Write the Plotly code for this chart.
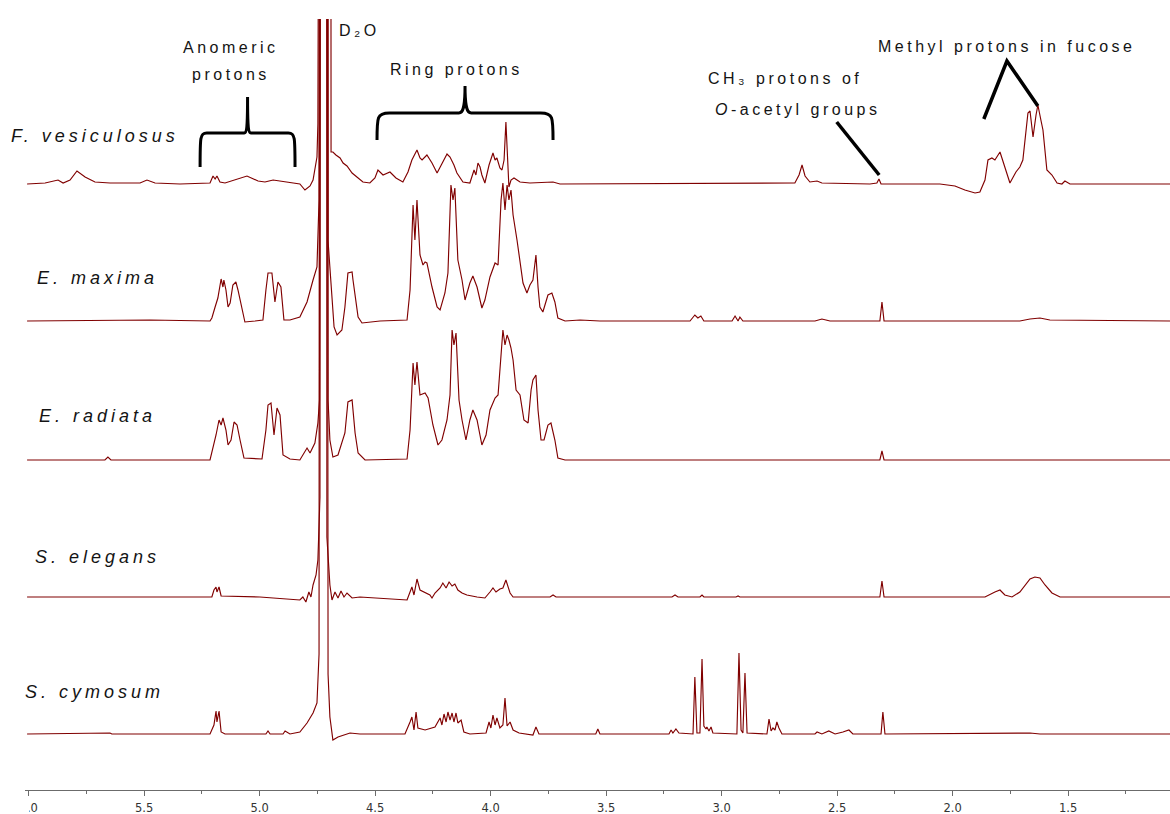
import plotly.graph_objects as go

# 1H NMR spectra (D2O) of fucoidan-type polysaccharides, stacked.
# Each spectrum: (chemical shift in ppm, relative intensity in a.u.)

SPECIES = ["F. vesiculosus", "E. maxima", "E. radiata", "S. elegans", "S. cymosum"]

F_VESICULOSUS = [
    (6.007, 0), (5.929, 1), (5.873, 4), (5.851, 1), (5.821, 4), (5.791, 13), (5.756, 7),
    (5.713, 2), (5.648, 1), (5.518, 1), (5.488, 4), (5.453, 1), (5.345, 0), (5.258, 1),
    (5.215, 1), (5.202, 8), (5.193, 5), (5.185, 8), (5.172, 2), (5.150, 1), (5.107, 4),
    (5.055, 8), (5.007, 3), (4.977, 2), (4.942, 4), (4.890, 2), (4.826, 0), (4.804, -6),
    (4.782, -2), (4.769, 4), (4.752, 27), (4.748, 60), (4.741, 4000), (4.700, 4000),
    (4.691, 32), (4.683, 32), (4.670, 29), (4.652, 26), (4.639, 21), (4.622, 18),
    (4.600, 11), (4.574, 6), (4.553, 2), (4.523, 1), (4.501, 6), (4.488, 14), (4.466, 9),
    (4.436, 12), (4.410, 6), (4.380, 2), (4.358, 12), (4.341, 24), (4.319, 34), (4.306, 26),
    (4.297, 24), (4.276, 29), (4.254, 21), (4.232, 11), (4.211, 21), (4.189, 30),
    (4.176, 27), (4.159, 19), (4.146, 11), (4.120, 2), (4.090, 1), (4.072, 14), (4.064, 9),
    (4.055, 21), (4.046, 17), (4.038, 9), (4.025, 1), (4.007, 19), (3.990, 31), (3.981, 24),
    (3.973, 26), (3.960, 16), (3.951, 14), (3.942, 24), (3.934, 62), (3.925, 14),
    (3.921, -3), (3.912, 4), (3.899, 6), (3.873, 2), (3.830, 1), (3.730, 2), (3.700, 0),
    (2.683, 1), (2.665, 9), (2.652, 19), (2.639, 8), (2.618, 2), (2.587, 3), (2.566, 1),
    (2.358, 0), (2.328, 1), (2.319, 5), (2.310, 0), (2.055, 0), (1.990, -2), (1.947, -6),
    (1.903, -9), (1.882, -8), (1.860, 4), (1.847, 24), (1.830, 26), (1.817, 24),
    (1.795, 32), (1.778, 19), (1.752, 1), (1.726, 12), (1.709, 17), (1.696, 24),
    (1.679, 64), (1.674, 71), (1.665, 73), (1.652, 47), (1.639, 69), (1.631, 79),
    (1.618, 64), (1.609, 54), (1.592, 14), (1.570, 9), (1.548, 1), (1.527, 0), (1.514, 3),
    (1.492, 0), (1.059, 0),
]

E_MAXIMA = [
    (6.007, 0), (5.475, 1), (5.215, 0), (5.207, 3), (5.193, 14), (5.181, 23), (5.167, 42),
    (5.159, 34), (5.155, 41), (5.146, 31), (5.137, 14), (5.128, 18), (5.116, 36),
    (5.103, 39), (5.094, 31), (5.081, 18), (5.064, -1), (5.020, 0), (4.986, 1), (4.973, 31),
    (4.964, 48), (4.947, 48), (4.934, 19), (4.921, 39), (4.908, 34), (4.895, 1), (4.869, 1),
    (4.826, 4), (4.795, 19), (4.769, 41), (4.752, 54), (4.743, 121), (4.735, 4000),
    (4.713, 4000), (4.704, 80), (4.687, 21), (4.678, -6), (4.665, -14), (4.644, -9),
    (4.631, 14), (4.618, 48), (4.600, 49), (4.596, 41), (4.574, 4), (4.557, -2), (4.479, 0),
    (4.362, 1), (4.349, 31), (4.336, 116), (4.328, 81), (4.319, 121), (4.306, 66),
    (4.293, 56), (4.284, 59), (4.276, 58), (4.254, 34), (4.232, 14), (4.219, 11),
    (4.198, 28), (4.185, 48), (4.172, 136), (4.163, 121), (4.155, 133), (4.142, 61),
    (4.124, 41), (4.111, 21), (4.090, 38), (4.077, 45), (4.059, 34), (4.038, 13),
    (4.025, 21), (4.003, 44), (3.981, 58), (3.968, 56), (3.955, 121), (3.947, 138),
    (3.938, 111), (3.929, 136), (3.921, 121), (3.912, 131), (3.903, 106), (3.886, 81),
    (3.873, 61), (3.860, 38), (3.843, 28), (3.830, 36), (3.817, 41), (3.804, 66),
    (3.795, 34), (3.787, 14), (3.774, 9), (3.752, 26), (3.735, 28), (3.722, 19),
    (3.709, 3), (3.678, 0), (3.613, 1), (3.527, 0), (3.137, 0), (3.116, 6), (3.103, 3),
    (3.090, 5), (3.077, 0), (2.955, 0), (2.942, 5), (2.929, 0), (2.921, 4), (2.908, 0),
    (2.596, 0), (2.566, 2), (2.531, 0), (2.315, 0), (2.306, 19), (2.297, 0), (1.709, 0),
    (1.665, 2), (1.622, 3), (1.579, 1), (1.059, 0),
]

E_RADIATA = [
    (6.007, 0), (5.670, 0), (5.657, 3), (5.644, 0), (5.215, 0), (5.202, 12), (5.189, 25),
    (5.176, 40), (5.167, 35), (5.159, 42), (5.146, 30), (5.137, 15), (5.124, 20),
    (5.111, 38), (5.098, 35), (5.085, 20), (5.068, 2), (4.990, 1), (4.973, 30), (4.964, 55),
    (4.951, 57), (4.938, 25), (4.925, 52), (4.912, 45), (4.899, 5), (4.869, 1), (4.826, 0),
    (4.795, 12), (4.782, 7), (4.761, 17), (4.748, 37), (4.741, 60), (4.732, 4000),
    (4.713, 4000), (4.704, 60), (4.696, 20), (4.683, 3), (4.661, 5), (4.631, 27),
    (4.618, 58), (4.600, 60), (4.587, 27), (4.574, 7), (4.544, 0), (4.362, 1), (4.349, 30),
    (4.336, 97), (4.328, 75), (4.319, 98), (4.306, 65), (4.284, 67), (4.271, 62),
    (4.250, 35), (4.228, 15), (4.211, 20), (4.189, 40), (4.176, 65), (4.167, 130),
    (4.159, 115), (4.150, 127), (4.137, 60), (4.124, 40), (4.107, 20), (4.090, 40),
    (4.077, 50), (4.059, 40), (4.038, 15), (4.020, 25), (4.003, 50), (3.981, 62),
    (3.968, 65), (3.955, 110), (3.947, 130), (3.938, 115), (3.929, 125), (3.921, 120),
    (3.912, 112), (3.903, 100), (3.890, 70), (3.873, 65), (3.856, 40), (3.838, 37),
    (3.825, 70), (3.817, 80), (3.804, 85), (3.795, 50), (3.782, 20), (3.769, 20),
    (3.752, 35), (3.739, 37), (3.722, 20), (3.709, 2), (3.678, 0), (2.315, 0), (2.306, 9),
    (2.297, 0), (1.059, 0),
]

S_ELEGANS = [
    (6.007, 0), (5.207, 0), (5.198, 7), (5.189, 10), (5.185, 5), (5.176, 10), (5.167, 1),
    (4.999, 0), (4.826, -3), (4.813, 0), (4.800, -5), (4.787, 5), (4.778, 0), (4.769, 12),
    (4.756, 22), (4.748, 37), (4.739, 100), (4.730, 4000), (4.717, 4000), (4.709, 60),
    (4.696, 12), (4.687, -3), (4.674, 5), (4.661, -1), (4.648, 6), (4.635, 0), (4.622, 4),
    (4.600, -1), (4.566, 0), (4.362, -3), (4.341, 10), (4.332, 2), (4.319, 18), (4.306, 7),
    (4.263, 2), (4.254, -1), (4.241, 4), (4.219, 9), (4.207, 14), (4.193, 9), (4.180, 15),
    (4.167, 11), (4.155, 13), (4.142, 7), (4.124, 4), (4.103, 2), (4.059, 0), (4.025, -1),
    (4.003, 5), (3.990, 9), (3.977, 5), (3.960, 8), (3.947, 9), (3.934, 17), (3.916, 4),
    (3.903, 0), (3.743, 0), (3.730, 2), (3.717, 0), (3.215, 0), (3.202, 2), (3.189, 0),
    (3.094, 0), (3.085, 2), (3.077, 0), (2.938, 0), (2.929, 1), (2.921, 0), (2.315, 0),
    (2.306, 16), (2.297, 0), (1.860, 0), (1.817, 5), (1.795, 7), (1.774, 2), (1.743, 0),
    (1.709, 5), (1.687, 12), (1.665, 18), (1.644, 20), (1.622, 19), (1.600, 12),
    (1.570, 4), (1.535, 0), (1.059, 0),
]

S_CYMOSUM = [
    (6.007, 0), (5.648, 1), (5.640, 0), (5.215, 0), (5.198, 9), (5.189, 23), (5.185, 12),
    (5.176, 23), (5.167, 2), (5.150, 0), (4.973, 0), (4.964, 3), (4.955, 0), (4.899, 0),
    (4.890, 3), (4.869, 0), (4.826, 2), (4.795, 11), (4.769, 21), (4.752, 31), (4.743, 80),
    (4.735, 4000), (4.717, 4000), (4.704, 60), (4.696, 17), (4.683, -6), (4.661, -3),
    (4.631, -1), (4.609, 1), (4.566, 0), (4.371, 0), (4.349, 12), (4.341, 17), (4.332, 4),
    (4.323, 22), (4.315, 6), (4.284, 4), (4.241, 7), (4.219, 16), (4.211, 9), (4.202, 20),
    (4.193, 12), (4.185, 22), (4.176, 14), (4.167, 21), (4.159, 12), (4.150, 21),
    (4.142, 11), (4.128, 14), (4.116, 2), (4.090, 0), (4.020, 1), (4.007, 12), (3.999, 6),
    (3.990, 19), (3.981, 9), (3.973, 16), (3.960, 6), (3.947, 9), (3.938, 36), (3.929, 8),
    (3.916, 12), (3.903, 4), (3.877, 1), (3.817, -1), (3.804, 7), (3.791, 0), (3.545, 0),
    (3.536, 5), (3.527, 0), (3.228, 0), (3.219, 4), (3.211, 1), (3.198, 5), (3.185, 1),
    (3.124, 0), (3.116, 57), (3.107, 1), (3.094, 1), (3.085, 75), (3.077, 8), (3.068, 5),
    (3.064, 7), (3.055, 3), (3.046, 7), (3.038, 1), (2.934, 0), (2.925, 81), (2.916, 4),
    (2.908, 1), (2.899, 61), (2.890, 1), (2.804, 0), (2.795, 15), (2.786, 3), (2.778, 6),
    (2.769, 4), (2.761, 12), (2.752, 6), (2.739, 0), (2.596, 0), (2.587, 2), (2.566, 0),
    (2.536, 3), (2.509, 0), (2.475, 2), (2.449, 4), (2.432, 0), (2.310, 0), (2.302, 22),
    (2.293, 0), (1.665, 1), (1.622, 0), (1.059, 0),
]

SPECTRA = [F_VESICULOSUS, E_MAXIMA, E_RADIATA, S_ELEGANS, S_CYMOSUM]

# Baseline of each trace in the stack (a.u.)
STACK_OFFSETS = [606, 469, 330, 193, 56]

TRACE_COLOR = "#800000"
X_RANGE = [6.016, 1.059]
Y_RANGE = [0, 771]

fig = go.Figure()
for name, spec, off in zip(SPECIES, SPECTRA, STACK_OFFSETS):
    ppm = [p for p, _ in spec]
    inten = [v + off for _, v in spec]
    fig.add_trace(go.Scatter(
        x=ppm, y=inten, mode="lines", name=name,
        line=dict(color=TRACE_COLOR, width=1.15), hoverinfo="skip",
    ))


def spaced(text, px, size):
    return f"<span style='letter-spacing:{px}px;font-size:{size}px'>{text}</span>"


TEXT_FONT = dict(family="Liberation Sans, Arial, sans-serif", size=16, color="#141414")
LABEL_FONT = dict(family="Liberation Sans, Arial, sans-serif", size=18, color="#141414",
                  style="italic")

annotations = []
# species labels, centred above each trace
LABEL_X = [5.713, 5.702, 5.704, 5.700, 5.713]
LABEL_Y = [654, 512, 374, 233, 98]
for name, lx, ly in zip(SPECIES, LABEL_X, LABEL_Y):
    annotations.append(dict(x=lx, y=ly, xref="x", yref="y", text=spaced(name, 4, 18),
                            showarrow=False, font=LABEL_FONT,
                            xanchor="center", yanchor="middle"))

# assignment notes
NOTES = [
    ("Anomeric", 5.124, 743),
    ("protons", 5.124, 716),
    ("D\u2082O", 4.570, 760),
    ("Ring protons", 4.146, 721),
    ("CH\u2083 protons of", 2.724, 712),
    ("<i>O</i>-acetyl groups", 2.672, 681),
    ("Methyl protons in fucose", 1.769, 744),
]
for txt, nx, ny in NOTES:
    annotations.append(dict(x=nx, y=ny, xref="x", yref="y", text=spaced(txt, 3.5, 16),
                            showarrow=False, font=TEXT_FONT,
                            xanchor="center", yanchor="middle"))


def brace(x_left, x_right, y_end, y_bar, y_tip):
    mid = (x_left + x_right) / 2
    w = x_left - x_right
    r = w * 0.07
    m = w * 0.035
    return (f"M {x_left},{y_end} C {x_left},{y_bar - 4} {x_left},{y_bar} {x_left - r},{y_bar} "
            f"L {mid + m},{y_bar} C {mid + m * 0.3},{y_bar} {mid},{y_bar + 6} {mid},{y_tip} "
            f"C {mid},{y_bar + 6} {mid - m * 0.3},{y_bar} {mid - m},{y_bar} "
            f"L {x_right + r},{y_bar} C {x_right},{y_bar} {x_right},{y_bar - 4} {x_right},{y_end}")


BLACK = "#000000"
shapes = [
    dict(type="path", xref="x", yref="y", path=brace(5.258, 4.847, 623, 657, 693),
         line=dict(color=BLACK, width=3)),
    dict(type="path", xref="x", yref="y", path=brace(4.492, 3.730, 650, 677, 704),
         line=dict(color=BLACK, width=3)),
    dict(type="line", xref="x", yref="y", x0=2.502, y0=668, x1=2.318, y1=615,
         line=dict(color=BLACK, width=3.5)),
    dict(type="path", xref="x", yref="y", path="M 1.865,671 L 1.765,729 L 1.631,684",
         line=dict(color=BLACK, width=3.5)),
    # left page edge trims the first tick label
    dict(type="rect", xref="paper", yref="paper", x0=-0.05, x1=0.0035, y0=-0.06, y1=-0.009,
         fillcolor="white", line=dict(width=0), layer="above"),
]

fig.update_layout(
    width=1170, height=814,
    margin=dict(l=25, r=0, t=19, b=24, autoexpand=False),
    paper_bgcolor="white", plot_bgcolor="white",
    showlegend=False,
    annotations=annotations,
    shapes=shapes,
    xaxis=dict(
        range=X_RANGE, showline=True, linecolor="#6b6b6b", linewidth=1,
        ticks="outside", ticklen=5, tickwidth=1, tickcolor="#6b6b6b",
        tick0=0, dtick=0.5, tickformat=".1f", ticklabelstandoff=2, automargin=False,
        tickfont=dict(family="DejaVu Sans, Verdana, sans-serif", size=11.5, color="#333333"),
        showgrid=False, zeroline=False,
        minor=dict(tick0=0, dtick=0.25, ticks="outside", ticklen=3, tickcolor="#6b6b6b",
                   showgrid=False),
    ),
    yaxis=dict(range=Y_RANGE, visible=False, showgrid=False, zeroline=False,
               automargin=False),
)

fig.write_html("out.html")
